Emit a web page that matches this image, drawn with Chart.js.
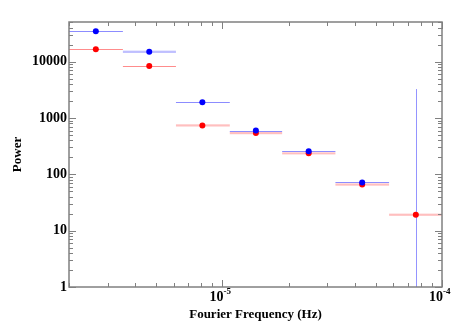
<!DOCTYPE html>
<html>
<head>
<meta charset="utf-8">
<script src="https://cdn.jsdelivr.net/npm/chart.js@4/dist/chart.umd.min.js"></script>
<style>
  html, body { margin: 0; padding: 0; background: #fff; }
</style>
</head>
<body>
<canvas id="cv" width="463" height="331"></canvas>
<script>
// frequency bins (Hz): centre, lower edge, upper edge
const freq   = [2.65e-6, 4.64e-6, 8.1e-6, 1.42e-5, 2.47e-5, 4.33e-5, 7.6e-5];
const binLo  = [2.0e-6, 3.52e-6, 6.14e-6, 1.08e-5, 1.87e-5, 3.27e-5, 5.74e-5];
const binHi  = [3.52e-6, 6.14e-6, 1.08e-5, 1.87e-5, 3.27e-5, 5.74e-5, 1.0e-4];

// power per bin and its error
const bluePower = [34700, 15000, 1900, 600, 256, 72, null];
const blueErr   = [400, 700, 25, 8, 3, 0.9, null];
const blueLimit = [null, null, null, null, null, null, 3270]; // upper limit only
const redPower  = [16600, 8400, 740, 540, 236, 66, 19.2];
const redErr    = [200, 100, 33, 24, 10, 3, 0.85];

const yTicks = [1, 10, 100, 1000, 10000];
const xTicks = [1e-5, 1e-4];
const xTickExp = ['-5', '-4'];

const FONT = '"Liberation Serif", "Times New Roman", serif';

const pts = (ys) => freq.map((f, i) => ({x: f, y: ys[i]})).filter(p => p.y !== null);

// horizontal bin bars + vertical limit line, drawn under the markers
const errorBars = {
  id: 'errorBars',
  beforeDatasetsDraw(chart) {
    const {ctx, chartArea: a, scales: {x, y}} = chart;
    ctx.save();
    ctx.beginPath();
    ctx.rect(a.left, a.top, a.right - a.left, a.bottom - a.top);
    ctx.clip();
    const band = (vals, errs, thin, thick) => {
      vals.forEach((v, i) => {
        if (v === null) return;
        const x0 = x.getPixelForValue(binLo[i]);
        const x1 = x.getPixelForValue(binHi[i]);
        let y0 = y.getPixelForValue(v + errs[i]);
        let y1 = y.getPixelForValue(v - errs[i]);
        ctx.fillStyle = thick;
        if (y1 - y0 < 1.5) {
          const c = Math.round((y0 + y1) / 2);
          y0 = c; y1 = c + 1;
          ctx.fillStyle = thin;
        }
        ctx.fillRect(x0, y0, x1 - x0, y1 - y0);
      });
    };
    band(redPower, redErr, 'rgba(255,0,0,0.45)', 'rgba(255,0,0,0.25)');
    band(bluePower, blueErr, 'rgba(0,0,255,0.45)', 'rgba(0,0,255,0.25)');
    ctx.strokeStyle = 'rgba(60,60,255,0.55)';
    ctx.lineWidth = 1;
    blueLimit.forEach((v, i) => {
      if (v === null) return;
      const px = Math.round(x.getPixelForValue(freq[i])) + 0.5;
      ctx.beginPath();
      ctx.moveTo(px, y.getPixelForValue(v));
      ctx.lineTo(px, a.bottom);
      ctx.stroke();
    });
    ctx.restore();
  }
};

// box frame with inward ticks on all four sides, x labels as 10^n
const frame = {
  id: 'frame',
  afterDraw(chart) {
    const {ctx, chartArea: a, scales: {x, y}} = chart;
    ctx.save();
    ctx.strokeStyle = '#808080';
    ctx.lineWidth = 1.5;
    ctx.strokeRect(a.left, a.top, a.right - a.left, a.bottom - a.top);
    ctx.lineWidth = 1;
    ctx.beginPath();
    for (let d = 0; d <= 4; d++) {
      for (let m = 1; m <= 9; m++) {
        const v = m * Math.pow(10, d);
        if (v < y.min || v > y.max) continue;
        const py = Math.round(y.getPixelForValue(v)) + 0.5;
        const len = m === 1 ? 7 : 4;
        ctx.moveTo(a.left, py); ctx.lineTo(a.left + len, py);
        ctx.moveTo(a.right, py); ctx.lineTo(a.right - len, py);
      }
    }
    for (let d = -6; d <= -4; d++) {
      for (let m = 1; m <= 9; m++) {
        const v = m * Math.pow(10, d);
        if (v < x.min * 0.999 || v > x.max * 1.001) continue;
        const px = Math.round(x.getPixelForValue(v)) + 0.5;
        const len = m === 1 ? 7 : 4;
        ctx.moveTo(px, a.bottom); ctx.lineTo(px, a.bottom - len);
        ctx.moveTo(px, a.top); ctx.lineTo(px, a.top + len);
      }
    }
    ctx.stroke();

    ctx.fillStyle = '#000';
    ctx.textBaseline = 'middle';
    xTicks.forEach((v, i) => {
      const px = x.getPixelForValue(v);
      ctx.font = 'bold 14px ' + FONT;
      ctx.textAlign = 'right';
      ctx.fillText('10', px + 1, a.bottom + 10);
      ctx.font = 'bold 9px ' + FONT;
      ctx.textAlign = 'left';
      ctx.fillText(xTickExp[i], px + 1, a.bottom + 5);
    });
    ctx.restore();
  }
};

new Chart(document.getElementById('cv'), {
  type: 'scatter',
  data: {
    datasets: [
      { data: pts(bluePower), backgroundColor: '#0000ff', borderWidth: 0, pointRadius: 3, pointHoverRadius: 3 },
      { data: pts(redPower), backgroundColor: '#ff0000', borderWidth: 0, pointRadius: 3, pointHoverRadius: 3 }
    ]
  },
  options: {
    responsive: false,
    animation: false,
    layout: { padding: { left: 0, top: 22, right: 21, bottom: 0 } },
    plugins: { legend: { display: false }, tooltip: { enabled: false } },
    scales: {
      x: {
        type: 'logarithmic',
        min: 2e-6,
        max: 1e-4,
        grid: { display: false },
        border: { display: false },
        ticks: { display: false },
        afterFit: (s) => { s.height = 44; },
        title: {
          display: true,
          text: 'Fourier Frequency (Hz)',
          color: '#000',
          font: { family: FONT, size: 13, weight: 'bold' },
          padding: { top: 0, bottom: 9 }
        }
      },
      y: {
        type: 'logarithmic',
        min: 1,
        max: 50700,
        grid: { display: false, drawTicks: false },
        border: { display: false },
        afterBuildTicks: (s) => { s.ticks = yTicks.map(v => ({value: v})); },
        ticks: {
          color: '#000',
          padding: 2,
          font: { family: FONT, size: 14, weight: 'bold' },
          callback: (v) => String(v)
        },
        afterFit: (s) => { s.width = 69; },
        title: {
          display: true,
          text: 'Power',
          color: '#000',
          font: { family: FONT, size: 13, weight: 'bold' },
          padding: { top: 10, bottom: 0 }
        }
      }
    }
  },
  plugins: [errorBars, frame]
});
</script>
</body>
</html>
